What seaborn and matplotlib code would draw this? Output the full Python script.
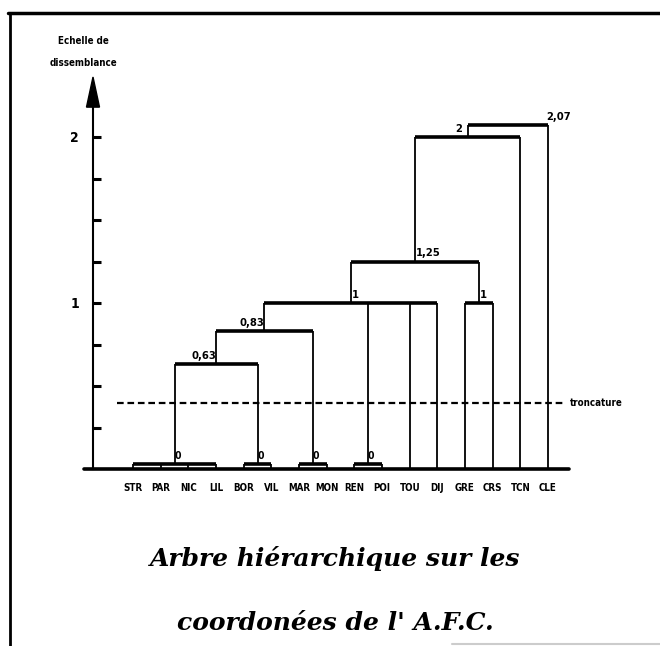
import numpy as np
import pandas as pd
import matplotlib
matplotlib.use("Agg")
import matplotlib.pyplot as plt
from matplotlib.lines import Line2D
import seaborn as sns

# ---------------- data ----------------
leaves = ["STR", "PAR", "NIC", "LIL", "BOR", "VIL", "MAR", "MON",
          "REN", "POI", "TOU", "DIJ", "GRE", "CRS", "TCN", "CLE"]
# children refer to leaf indices (0..15) or earlier nodes (16 + k)
node_children = [
    [0, 1, 2, 3],        # 16
    [4, 5],              # 17
    [6, 7],              # 18
    [8, 9],              # 19
    [16, 17],            # 20
    [20, 18],            # 21
    [21, 19, 10, 11],    # 22
    [12, 13],            # 23
    [22, 23],            # 24
    [24, 14],            # 25
    [25, 15],            # 26
]
node_heights = [0.03, 0.03, 0.03, 0.03, 0.63, 0.83, 1.0, 1.0, 1.25, 2.0, 2.07]
node_labels = ["0", "0", "0", "0", "0,63", "0,83", "1", "1", "1,25", "2", "2,07"]
y_ticks = [0.25, 0.5, 0.75, 1.0, 1.25, 1.5, 1.75, 2.0]
y_ticklabels = ["", "", "", "1", "", "", "", "2"]
cut_height = 0.40
cut_label = "troncature"
axis_title = ["Echelle de", "dissemblance"]
caption = ["Arbre hiérarchique sur les", "coordonées de l' A.F.C."]

# label placement styles (alignment + x offset in points)
label_ha = ["center"] * 4 + ["right", "right", "center", "center", "left", "right", "left"]
label_dx = [2, 2, 2, 2, 0, 0, 3, 3, 1, -4, 28]

# ---------------- build segments ----------------
n = len(leaves)
xpos = {i: float(i) for i in range(n)}
ypos = {i: 0.0 for i in range(n)}
rows = []
seg = 0
for k, (ch, h) in enumerate(zip(node_children, node_heights)):
    nid = n + k
    xs = [xpos[c] for c in ch]
    for c in ch:
        rows.append((seg, xpos[c], ypos[c], "v"))
        rows.append((seg, xpos[c], h, "v"))
        seg += 1
    rows.append((seg, min(xs), h, "h"))
    rows.append((seg, max(xs), h, "h"))
    seg += 1
    xpos[nid] = (min(xs) + max(xs)) / 2
    ypos[nid] = h
df = pd.DataFrame(rows, columns=["seg", "x", "y", "kind"])

# ---------------- figure ----------------
sns.set_theme(style="white")
plt.rcParams["font.family"] = ["DejaVu Sans"]
plt.rcParams["font.weight"] = "bold"
plt.rcParams["font.stretch"] = "condensed"

W, H = 660, 646
fig = plt.figure(figsize=(W / 100, H / 100), dpi=100)
fig.patch.set_facecolor("white")

ax_left_px, ax_right_px, ax_bot_px, ax_top_px = 93, 600, 469, 77
ax = fig.add_axes([ax_left_px / W, 1 - ax_bot_px / H,
                   (ax_right_px - ax_left_px) / W, (ax_bot_px - ax_top_px) / H])
ax.set_facecolor("white")

unit_px = 27.67
x0 = (ax_left_px - 133) / unit_px
x1 = (ax_right_px - 133) / unit_px
ax.set_xlim(x0, x1)
ax.set_ylim(0, (ax_bot_px - ax_top_px) / 166)

sns.lineplot(data=df[df.kind == "v"], x="x", y="y", units="seg", estimator=None,
             sort=False, color="black", lw=1.3, ax=ax)
sns.lineplot(data=df[df.kind == "h"], x="x", y="y", units="seg", estimator=None,
             sort=False, color="black", lw=2.6, ax=ax)
for ln in ax.lines:
    ln.set_clip_on(False)
    ln.set_solid_capstyle("butt")

# baseline
ax.plot([-1.77, n - 1 + 0.76], [0, 0], color="black", lw=2.6, clip_on=False)

# truncation line
ax.hlines(cut_height, -0.58, n - 1 + 0.61, colors="black", lw=1.6,
          linestyles=(0, (3, 1.7)), clip_on=False)
ax.text(n - 1 + 0.8, cut_height, cut_label, ha="left", va="center",
        fontsize=7, color="black")

# node labels
for k, (lab, h) in enumerate(zip(node_labels, node_heights)):
    ax.annotate(lab, xy=(xpos[n + k], h), xytext=(label_dx[k], 2.5),
                textcoords="offset points", ha=label_ha[k], va="bottom",
                fontsize=8 if k >= 4 else 7.5, color="black", annotation_clip=False)

# axes styling
for s in ["top", "right", "bottom"]:
    ax.spines[s].set_visible(False)
ax.spines["left"].set_color("black")
ax.spines["left"].set_linewidth(1.5)
ax.spines["left"].set_bounds(0, 2.2)
ax.set_yticks(y_ticks, y_ticklabels)
ax.tick_params(axis="y", direction="in", length=6, width=2.2, pad=10,
               labelsize=10, colors="black", left=True)
ax.set_xticks(range(n), leaves)
ax.tick_params(axis="x", length=0, pad=10, labelsize=7, colors="black")
ax.set_xlabel("")
ax.set_ylabel("")

# arrow head on y axis
yl = ax.get_ylim()[1]
w = 6.5 / unit_px
ax.fill([x0 - w, x0 + w, x0], [2.18, 2.18, yl], color="black", clip_on=False)

# axis title
for txt, ypx in zip(axis_title, [41, 63]):
    fig.text(83 / W, 1 - ypx / H, txt, ha="center", va="center",
             fontsize=7, color="black")

# frame
fig.add_artist(Line2D([8 / W, 1], [1 - 13 / H, 1 - 13 / H], color="black", lw=2.5))
fig.add_artist(Line2D([10 / W, 10 / W], [1 - 13 / H, 0], color="black", lw=2.0))
fig.add_artist(Line2D([452 / W, 1], [1 - 644 / H, 1 - 644 / H], color="#cccccc", lw=1.5))

# caption
for txt, ypx in zip(caption, [566, 630]):
    fig.text(335 / W, 1 - ypx / H, txt, ha="center", va="baseline",
             family=["DejaVu Serif"], style="italic", stretch="normal",
             weight="bold", fontsize=18, color="black")

fig.savefig("out.png", dpi=100, facecolor="white")
